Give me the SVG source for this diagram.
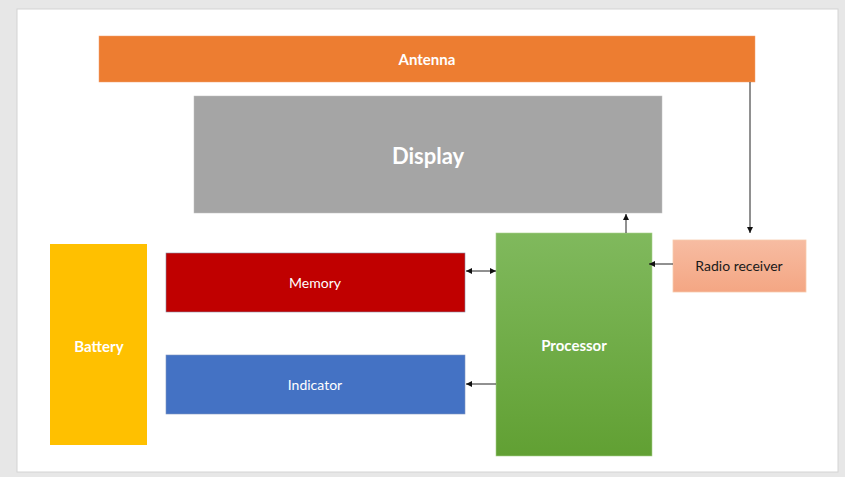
<svg xmlns="http://www.w3.org/2000/svg" width="845" height="477" viewBox="0 0 845 477">
<style>
.lbl{font-family:Lato,"Liberation Sans",sans-serif;fill:#fff;text-anchor:middle;dominant-baseline:central}
.b{font-weight:bold}
.c{stroke:#222;stroke-width:1;fill:none}
</style>
<defs>
<marker id="ah" viewBox="0 0 10 10" refX="10" refY="5" markerWidth="6" markerHeight="6" orient="auto-start-reverse" markerUnits="userSpaceOnUse">
<path d="M0,0 L10,5 L0,10 z" fill="#111"/>
</marker>
<linearGradient id="gp" x1="0" y1="0" x2="0" y2="1">
<stop offset="0" stop-color="#80B95D"/>
<stop offset="1" stop-color="#61A033"/>
</linearGradient>
<linearGradient id="gr" x1="0" y1="0" x2="0" y2="1">
<stop offset="0" stop-color="#F7BCA2"/>
<stop offset="1" stop-color="#F4A683"/>
</linearGradient>
</defs>
<rect x="0" y="0" width="845" height="477" fill="#e7e7e7"/>
<rect x="17" y="9" width="821" height="463" fill="#fff" stroke="#d4d4d4" stroke-width="1"/>
<g id="antenna">
<rect x="99" y="36" width="656" height="46" fill="#ED7D31" stroke="#f2a070" stroke-width="0.5"/>
<text class="lbl b" x="427" y="58.5" font-size="15">Antenna</text>
</g>
<g id="display">
<rect x="194" y="96" width="468" height="117" fill="#A5A5A5" stroke="#c0c0c0" stroke-width="0.5"/>
<text class="lbl b" x="428" y="155.5" font-size="22">Display</text>
</g>
<g id="battery">
<rect x="50" y="244" width="97" height="201" fill="#FFC000"/>
<text class="lbl b" x="99" y="345.5" font-size="15">Battery</text>
</g>
<g id="memory">
<rect x="166" y="253" width="299" height="59" fill="#C00000" stroke="#8a8aa0" stroke-width="0.6"/>
<text class="lbl" x="315" y="282.5" font-size="14">Memory</text>
</g>
<g id="indicator">
<rect x="166" y="355" width="299" height="59" fill="#4472C4" stroke="#7f95c0" stroke-width="0.6"/>
<text class="lbl" x="315" y="384.5" font-size="14">Indicator</text>
</g>
<g id="processor">
<rect x="496" y="233" width="156" height="223" fill="url(#gp)" stroke="#a8d08d" stroke-width="0.6"/>
<text class="lbl b" x="574" y="344.5" font-size="15">Processor</text>
</g>
<g id="radio">
<rect x="673" y="240" width="133" height="52" fill="url(#gr)" stroke="#F8CBAD" stroke-width="0.8"/>
<text class="lbl" x="739" y="265.5" font-size="14" style="fill:#1a1a1a">Radio receiver</text>
</g>
<g id="connectors">
<line class="c" x1="750" y1="82" x2="750" y2="233" marker-end="url(#ah)"/>
<line class="c" x1="626" y1="233" x2="626" y2="214" marker-end="url(#ah)"/>
<line class="c" x1="673" y1="264" x2="649" y2="264" marker-end="url(#ah)"/>
<line class="c" x1="466" y1="271" x2="496" y2="271" marker-start="url(#ah)" marker-end="url(#ah)"/>
<line class="c" x1="496" y1="384" x2="466" y2="384" marker-end="url(#ah)"/>
</g>
</svg>
